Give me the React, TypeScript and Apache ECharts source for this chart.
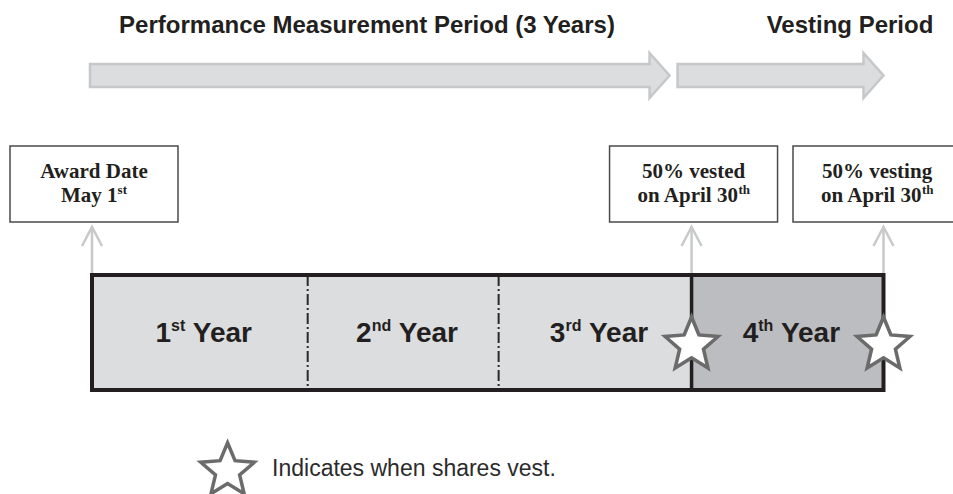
import React, { useEffect, useRef } from "react";
import * as echarts from "echarts";

// ---- data ----
const yearLabels = ["1st", "2nd", "3rd", "4th"];
// drawn length of each year segment (in "year" units)
const yearSpans = [1.09, 0.965, 0.975, 0.97];
const yearPhases = ["performance", "performance", "performance", "vesting"];

const periodNames = ["Performance Measurement Period (3 Years)", "Vesting Period"];
const periodFrom = [0, 3];
const periodTo = [3, 4];

const eventAt = [0, 3, 4];
const eventLine1 = ["Award Date", "50% vested", "50% vesting"];
const eventLine2 = ["May 1st", "on April 30th", "on April 30th"];

const vestAt = [3, 4];
const legendLabel = "Indicates when shares vest.";

// ---- helpers ----
const bounds: number[] = yearSpans.reduce(
  (acc: number[], s) => {
    acc.push(acc[acc.length - 1] + s);
    return acc;
  },
  [0]
);

const SANS = '"Liberation Sans", Arial, Helvetica, sans-serif';
const SERIF = '"Liberation Serif", "Times New Roman", Times, serif';
const INK = "#231f20";
const STAR =
  "path://M50 0 L63.23 31.8 L97.55 34.55 L71.4 56.95 L79.39 90.45 L50 72.5 L20.61 90.45 L28.6 56.95 L2.45 34.55 L36.77 31.8 Z";

function withSup(t: string, m: string, s: string) {
  const r = t.match(/^(.*\d)(st|nd|rd|th)(.*)$/);
  if (!r) return `{${m}|${t}}`;
  return `{${m}|${r[1]}}{${s}|${r[2]}}` + (r[3] ? `{${m}|${r[3]}}` : "");
}

const yearRich = {
  n: { fontFamily: SANS, fontWeight: "bold", fontSize: 28, lineHeight: 30, fill: INK },
  s: { fontFamily: SANS, fontWeight: "bold", fontSize: 16, lineHeight: 18, verticalAlign: "top", fill: INK },
};
const boxRich = {
  b: { fontFamily: SERIF, fontWeight: "bold", fontSize: 21, lineHeight: 24, fill: INK },
  s: { fontFamily: SERIF, fontWeight: "bold", fontSize: 13, lineHeight: 12, verticalAlign: "top", fill: INK },
};

function buildOption(): any {
  return {
    animation: false,
    backgroundColor: "#ffffff",
    grid: { left: 92, top: 275, width: 791.5, height: 115 },
    xAxis: { type: "value", min: 0, max: 4, show: false },
    yAxis: { type: "value", min: 0, max: 1, show: false },
    legend: {
      show: true,
      data: [{ name: legendLabel, icon: STAR }],
      left: 199,
      top: 441,
      padding: 0,
      itemWidth: 57,
      itemHeight: 51,
      selectedMode: false,
      itemStyle: { color: "#ffffff", borderColor: "#6b6b6b", borderWidth: 3.5 },
      textStyle: { fontFamily: SANS, fontSize: 23, color: "#2b2b2b", padding: [15, 0, 0, 11] },
    },
    graphic: periodNames.map((name, i) => ({
      type: "text",
      x: i === 0 ? 367 : 850,
      y: 24,
      silent: true,
      style: {
        text: name,
        fill: INK,
        font: `bold 24px ${SANS}`,
        align: "center",
        textAlign: "center",
        verticalAlign: "middle",
        textVerticalAlign: "middle",
      },
    })),
    series: [
      // period arrows at top
      {
        type: "custom",
        silent: true,
        z: 1,
        clip: false,
        data: periodNames.map((_, i) => [bounds[periodFrom[i]], bounds[periodTo[i]]]),
        encode: { x: [0, 1] },
        renderItem: (params: any, api: any) => {
          const i = params.dataIndex;
          const a = api.coord([api.value(0), 0])[0];
          const b = api.coord([api.value(1), 0])[0];
          const first = i === 0;
          const last = i === periodNames.length - 1;
          const x0 = a - (first ? 2 : 14);
          const x1 = b - (last ? 0 : 22);
          const hb = x1 - 20;
          const cy = 75.5;
          const bh = 11.5;
          const hh = 22.5;
          return {
            type: "polygon",
            shape: {
              points: [
                [x0, cy - bh],
                [hb, cy - bh],
                [hb, cy - hh],
                [x1, cy],
                [hb, cy + hh],
                [hb, cy + bh],
                [x0, cy + bh],
              ],
            },
            style: { fill: "#dcdddf", stroke: "#c6c7c9", lineWidth: 2.5 },
          };
        },
      },
      // year segments
      {
        type: "custom",
        silent: true,
        z: 2,
        data: yearLabels.map((_, i) => [bounds[i], bounds[i + 1], 0, 1]),
        encode: { x: [0, 1], y: [2, 3] },
        renderItem: (params: any, api: any) => {
          const i = params.dataIndex;
          const tl = api.coord([api.value(0), api.value(3)]);
          const br = api.coord([api.value(1), api.value(2)]);
          const children: any[] = [
            {
              type: "rect",
              shape: { x: tl[0], y: tl[1], width: br[0] - tl[0], height: br[1] - tl[1] },
              style: { fill: yearPhases[i] === "vesting" ? "#bcbdc0" : "#dcdddf" },
            },
          ];
          if (i > 0) {
            const change = yearPhases[i] !== yearPhases[i - 1];
            children.push({
              type: "line",
              shape: { x1: tl[0], y1: tl[1], x2: tl[0], y2: br[1] },
              style: change
                ? { stroke: INK, lineWidth: 3.5 }
                : { stroke: "#2a2a2a", lineWidth: 2, lineDash: [11, 3, 2, 3] },
            });
          }
          children.push({
            type: "text",
            style: {
              text: withSup(`${yearLabels[i]} Year`, "n", "s"),
              x: (tl[0] + br[0]) / 2 + 4,
              y: (tl[1] + br[1]) / 2,
              fill: INK,
              align: "center",
              textAlign: "center",
              verticalAlign: "middle",
              textVerticalAlign: "middle",
              rich: yearRich,
            },
          });
          return { type: "group", children };
        },
      },
      // outer border of the timeline bar
      {
        type: "custom",
        silent: true,
        z: 3,
        data: [[0, bounds[bounds.length - 1], 0, 1]],
        encode: { x: [0, 1], y: [2, 3] },
        renderItem: (_params: any, api: any) => {
          const tl = api.coord([api.value(0), api.value(3)]);
          const br = api.coord([api.value(1), api.value(2)]);
          return {
            type: "rect",
            shape: { x: tl[0], y: tl[1], width: br[0] - tl[0], height: br[1] - tl[1] },
            style: { fill: "none", stroke: INK, lineWidth: 4 },
          };
        },
      },
      // callout boxes with up arrows
      {
        type: "custom",
        silent: true,
        z: 2,
        clip: false,
        data: eventAt.map((k) => [bounds[k], 1]),
        encode: { x: 0, y: 1 },
        renderItem: (params: any, api: any) => {
          const i = params.dataIndex;
          const p = api.coord([api.value(0), api.value(1)]);
          const x = p[0];
          const y = p[1];
          const W = api.getWidth();
          const bw = 168;
          const bhh = 76;
          let bx = x - bw / 2 + 2;
          if (bx + bw > W) bx = W + 8 - bw;
          const by = y - 53 - bhh;
          return {
            type: "group",
            children: [
              {
                type: "line",
                shape: { x1: x, y1: y, x2: x, y2: y - 47 },
                style: { stroke: "#c8c9cb", lineWidth: 2.5 },
              },
              {
                type: "polyline",
                shape: { points: [[x - 10, y - 29], [x, y - 48], [x + 10, y - 29]] },
                style: { stroke: "#c8c9cb", lineWidth: 2.5, fill: "none" },
              },
              {
                type: "rect",
                shape: { x: bx, y: by, width: bw, height: bhh },
                style: { fill: "#ffffff", stroke: "#4a4a4a", lineWidth: 1.5 },
              },
              {
                type: "text",
                style: {
                  text: withSup(eventLine1[i], "b", "s") + "\n" + withSup(eventLine2[i], "b", "s"),
                  x: bx + bw / 2,
                  y: by + bhh / 2 - 1,
                  fill: INK,
                  align: "center",
                  textAlign: "center",
                  verticalAlign: "middle",
                  textVerticalAlign: "middle",
                  rich: boxRich,
                },
              },
            ],
          };
        },
      },
      // vesting stars
      {
        type: "scatter",
        name: legendLabel,
        silent: true,
        z: 5,
        data: vestAt.map((k) => [bounds[k], 0.5]),
        symbol: STAR,
        symbolSize: [53, 51],
        symbolOffset: [0, 10],
        itemStyle: { color: "#ffffff", borderColor: "#6b6b6b", borderWidth: 3.5, opacity: 1 },
      },
    ],
  };
}

export default function App() {
  const ref = useRef<HTMLDivElement>(null);
  useEffect(() => {
    if (!ref.current) return;
    const chart = echarts.init(ref.current, null, { renderer: "svg" });
    chart.setOption(buildOption());
    return () => chart.dispose();
  }, []);
  return (
    <div
      ref={ref}
      style={{ position: "fixed", left: 0, top: 0, width: 953, height: 494, background: "#ffffff" }}
    />
  );
}
